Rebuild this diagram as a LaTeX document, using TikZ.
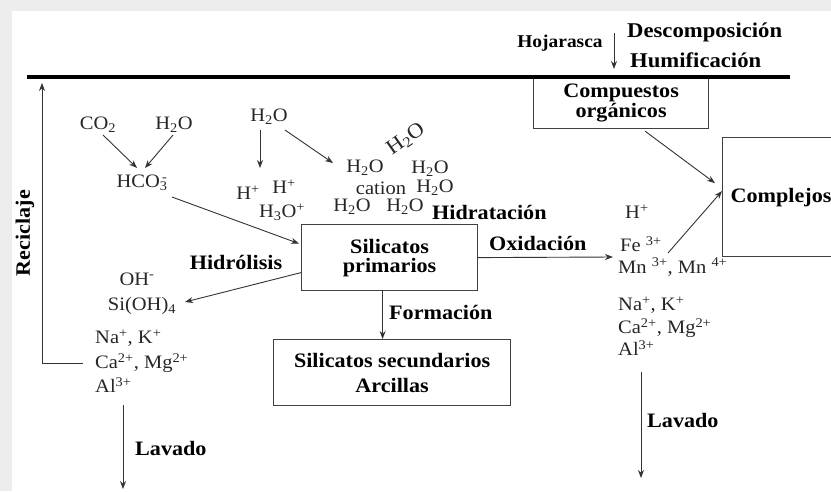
\documentclass[tikz,border=0pt]{standalone}
\usepackage{fontspec}
\setmainfont{Liberation Serif}[FakeStretch=1.08]
\usetikzlibrary{arrows.meta,calc}
\tikzset{
  chem/.style={inner sep=0pt, text=black!85, font=\fontsize{19}{22}\selectfont},
  lab/.style={inner sep=0pt, text=black, font=\bfseries\fontsize{20.5}{20}\selectfont},
  box/.style={draw=black!75, line width=1.2pt, inner sep=0pt, anchor=north west, align=center,
              font=\bfseries\fontsize{20.5}{20}\selectfont},
  arr/.style={-{Stealth[length=8pt,width=6pt]}, draw=black!80, line width=0.9pt},
}
\begin{document}
\begin{tikzpicture}[x=1pt,y=-1pt]
\useasboundingbox (0,0) rectangle (831,491);
\fill[black!7] (0,0) rectangle (831,491);
\fill[white] (12,11) rectangle (831,491);
% boxes
\node[box, minimum width=175pt, minimum height=51pt] (comp) at (533,77) {Compuestos\\orgánicos};
\node[box, minimum width=176pt, minimum height=66pt] (silp) at (301,224) {Silicatos\\[-1pt]primarios};
\node[box, minimum width=237pt, minimum height=66pt] (sils) at (273,339) {Silicatos secundarios\\[5pt]Arcillas};
\begin{scope}
\clip (0,0) rectangle (831,491);
\node[box, minimum width=140pt, minimum height=119pt, align=left, text width=124pt, inner xsep=8pt] (compl) at (722,137) {Complejos};
\end{scope}
% surface line
\coordinate (sl) at (27,77);
\coordinate (sr) at (790,77);
\draw[line width=3.5pt] (sl) -- (sr);
% top labels
\node[lab, font=\bfseries\fontsize{18}{18}\selectfont] (hoja) at (560,43) {Hojarasca};
\coordinate (ht) at (614,33);
\coordinate (hb) at (614,69);
\draw[arr] (ht) -- (hb);
\node[lab, anchor=west, font=\bfseries\fontsize{21}{21}\selectfont] (desc) at (627,32) {Descomposición};
\node[lab, anchor=west, font=\bfseries\fontsize{21}{21}\selectfont] (humi) at (630,60) {Humificación};
% left top
\node[chem] (co2) at (98,125) {CO\textsubscript{2}};
\node[chem] (h2oa) at (174,125) {H\textsubscript{2}O};
\node[chem] (hco3) at (142,183) {HCO\rlap{\textsubscript{3}}\textsuperscript{\,-}\hspace{0.3em}};
\draw[arr] ($(co2)+(5,10)$) -- ($(hco3)+(-5,-15)$);
\draw[arr] ($(h2oa)+(-1,10)$) -- ($(hco3)+(3,-15)$);
% middle top
\node[chem] (h2ob) at (269,117) {H\textsubscript{2}O};
\node[chem] (hp1) at (248,193) {H\textsuperscript{+}};
\node[chem] (hp2) at (284,187) {H\textsuperscript{+}};
\node[chem] (h3o) at (282,212) {H\textsubscript{3}O\textsuperscript{+}};
\draw[arr] ($(h2ob)+(-9,13)$) -- ($(hp1)+(12,-25)$);
% hydration cluster
\node[chem, font=\fontsize{21}{22}\selectfont, rotate=35] (w0) at (406,139) {H\textsubscript{2}O};
\node[chem] (w1) at (365,168) {H\textsubscript{2}O};
\node[chem] (w2) at (430,169) {H\textsubscript{2}O};
\node[chem] (cat) at (381,188) {cation};
\node[chem] (w3) at (435,188) {H\textsubscript{2}O};
\node[chem] (w4) at (352,207) {H\textsubscript{2}O};
\node[chem] (w5) at (405,207) {H\textsubscript{2}O};
\draw[arr] ($(h2ob)+(16,13)$) -- ($(w1)+(-32,-5)$);
\node[lab, anchor=west] (hidra) at (432,212) {Hidratación};
% HCO3 to silicates
\draw[arr] ($(hco3)+(30,14)$) -- ($(silp.west)+(-2,-14)$);
% hydrolysis
\node[lab] (hidro) at (236,262) {Hidrólisis};
\node[chem] (oh) at (137,279) {OH\textsuperscript{-}};
\node[chem] (sioh) at (142,306) {Si(OH)\textsubscript{4}};
\draw[arr] ($(silp.west)+(0,15)$) -- ($(sioh)+(43,-4)$);
\node[chem, anchor=west] (na1) at (95,338) {Na\textsuperscript{+}, K\textsuperscript{+}};
\node[chem, anchor=west] (ca1) at (95,363) {Ca\textsuperscript{2+}, Mg\textsuperscript{2+}};
\node[chem, anchor=west] (al1) at (95,385) {Al\textsuperscript{3+}};
% recycling
\coordinate (rtop) at (42,83);
\draw[arr] ([xshift=-12pt]ca1.west) -| (rtop);
\node[lab, rotate=90] (recic) at (25,233) {Reciclaje};
% leaching left
\draw[arr] ($(al1.west)+(28,20)$) -- ($(al1.west)+(28,104)$);
\node[lab, anchor=west] (lav1) at (135,448) {Lavado};
% formation
\draw[arr] ([xshift=-7pt]silp.south) -- ([xshift=-7pt]silp.south |- sils.north);
\node[lab, anchor=west] (form) at (389,312) {Formación};
% oxidation
\node[lab, anchor=west] (oxi) at (489,243) {Oxidación};
\node[chem, anchor=west] (hpr) at (625,212) {H\textsuperscript{+}};
\node[chem, anchor=west] (fe) at (620,244) {Fe \textsuperscript{3+}};
\node[chem, anchor=west] (mn) at (618,267) {Mn \textsuperscript{3+}, Mn \textsuperscript{4+}};
\node[chem, anchor=west] (na2) at (618,305) {Na\textsuperscript{+}, K\textsuperscript{+}};
\node[chem, anchor=west] (ca2) at (618,328) {Ca\textsuperscript{2+}, Mg\textsuperscript{2+}};
\node[chem, anchor=west] (al2) at (618,348) {Al\textsuperscript{3+}};
\draw[arr] (silp.east) -- ($(mn.west)+(-5,-10)$);
% complexes
\draw[arr] ($(comp.south)+(24,2)$) -- ($(compl.west)+(-7,-14)$);
\draw[arr] ($(fe.west)+(48,9)$) -- ($(compl.west)+(0,-6)$);
% leaching right
\draw[arr] ($(al2.west)+(23,24)$) -- ($(al2.west)+(23,130)$);
\node[lab, anchor=west] (lav2) at (647,420) {Lavado};
\end{tikzpicture}
\end{document}
